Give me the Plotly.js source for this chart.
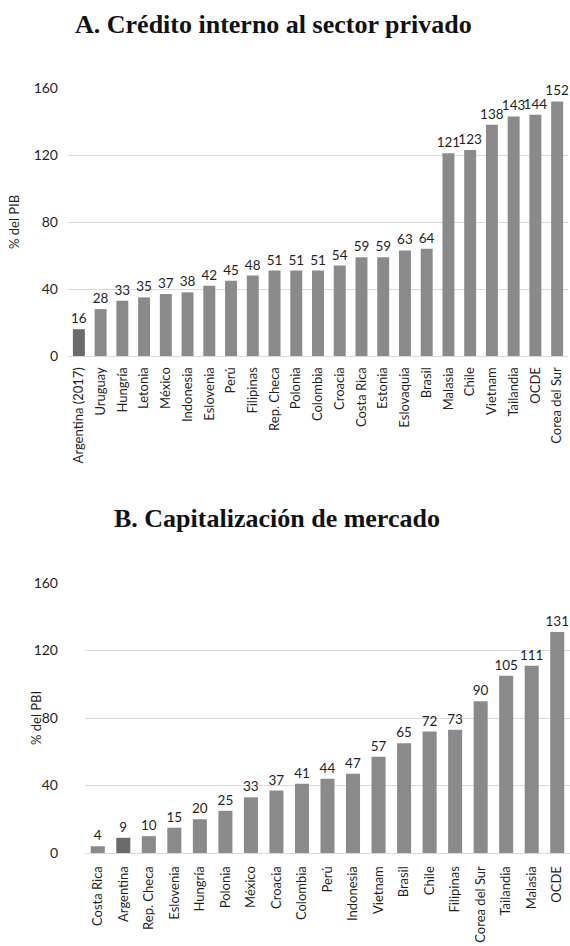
<!DOCTYPE html>
<html>
<head>
<meta charset="utf-8">
<script src="https://cdn.plot.ly/plotly-3.0.1.min.js"></script>
<style>html,body{margin:0;padding:0;background:#fff;}#chart{width:570px;height:946px;}</style>
</head>
<body>
<div id="chart"></div>
<script>
// Panel A: Crédito interno al sector privado (% del PIB)
const catsA = ["Argentina (2017)","Uruguay","Hungría","Letonia","México","Indonesia","Eslovenia","Perú","Filipinas","Rep. Checa","Polonia","Colombia","Croacia","Costa Rica","Estonia","Eslovaquia","Brasil","Malasia","Chile","Vietnam","Tailandia","OCDE","Corea del Sur"];
const valsA = [16,28,33,35,37,38,42,45,48,51,51,51,54,59,59,63,64,121,123,138,143,144,152];
const highlightA = "Argentina (2017)";

// Panel B: Capitalización de mercado (% del PBI)
const catsB = ["Costa Rica","Argentina","Rep. Checa","Eslovenia","Hungría","Polonia","México","Croacia","Colombia","Perú","Indonesia","Vietnam","Brasil","Chile","Filipinas","Corea del Sur","Tailandia","Malasia","OCDE"];
const valsB = [4,9,10,15,20,25,33,37,41,44,47,57,65,72,73,90,105,111,131];
const highlightB = "Argentina";

const yTicks = [0,40,80,120,160];

const BAR = "#8a8a8a", HL = "#6b6b6b";
const FONT = "Lato, 'Open Sans', sans-serif";
const TXT = "#1f1f1f";

const traceA = {
  type: "bar", x: catsA, y: valsA, xaxis: "x", yaxis: "y",
  marker: {color: catsA.map(c => c === highlightA ? HL : BAR)},
  text: valsA.map(String), textposition: "outside", constraintext: "none",
  cliponaxis: false, textfont: {family: FONT, size: 13.5, color: TXT},
  hoverinfo: "x+y"
};
const traceB = {
  type: "bar", x: catsB, y: valsB, xaxis: "x2", yaxis: "y2",
  marker: {color: catsB.map(c => c === highlightB ? HL : BAR)},
  text: valsB.map(String), textposition: "outside", constraintext: "none",
  cliponaxis: false, textfont: {family: FONT, size: 13.5, color: TXT},
  hoverinfo: "x+y"
};

const H = 946, W = 570;
const py = p => 1 - p / H;
const px = p => p / W;

const yax = (dom) => ({
  domain: dom, range: [0, 160], tickvals: yTicks, ticktext: yTicks.map(String),
  showgrid: true, gridcolor: "#d9d9d9", gridwidth: 1, zeroline: false,
  showline: false, ticks: "", ticklabelstandoff: 9,
  tickfont: {family: FONT, size: 14, color: TXT}, fixedrange: true
});
const xax = (dom, anchor, standoff) => ({
  domain: dom, anchor: anchor, tickangle: -90, showgrid: false, zeroline: false,
  showline: true, linecolor: "#d9d9d9", linewidth: 1, ticks: "",
  ticklabelstandoff: standoff,
  tickfont: {family: FONT, size: 13, color: TXT}, fixedrange: true
});

const layout = {
  width: W, height: H, margin: {l: 0, r: 0, t: 0, b: 0},
  paper_bgcolor: "#fff", plot_bgcolor: "#fff", showlegend: false,
  bargap: 0.45,
  xaxis: xax([px(68), px(568)], "y", 5),
  yaxis: yax([py(356), py(88)]),
  xaxis2: xax([px(85), 1], "y2", 7),
  yaxis2: yax([py(853), py(583)]),
  annotations: [
    {text: "<b>A. Crédito interno al sector privado</b>", xref: "paper", yref: "paper",
     x: px(273), y: py(25), xanchor: "center", yanchor: "middle", showarrow: false,
     font: {family: "'Liberation Serif', serif", size: 26, color: "#111"}},
    {text: "<b>B. Capitalización de mercado</b>", xref: "paper", yref: "paper",
     x: px(277), y: py(518), xanchor: "center", yanchor: "middle", showarrow: false,
     font: {family: "'Liberation Serif', serif", size: 26, color: "#111"}},
    {text: "% del PIB", xref: "paper", yref: "paper", textangle: -90,
     x: px(14), y: py(222), xanchor: "center", yanchor: "middle", showarrow: false,
     font: {family: FONT, size: 13, color: TXT}},
    {text: "% del PBI", xref: "paper", yref: "paper", textangle: -90,
     x: px(36), y: py(718), xanchor: "center", yanchor: "middle", showarrow: false,
     font: {family: FONT, size: 13, color: TXT}}
  ]
};

Plotly.newPlot("chart", [traceA, traceB], layout, {displayModeBar: false, staticPlot: true});
</script>
</body>
</html>
